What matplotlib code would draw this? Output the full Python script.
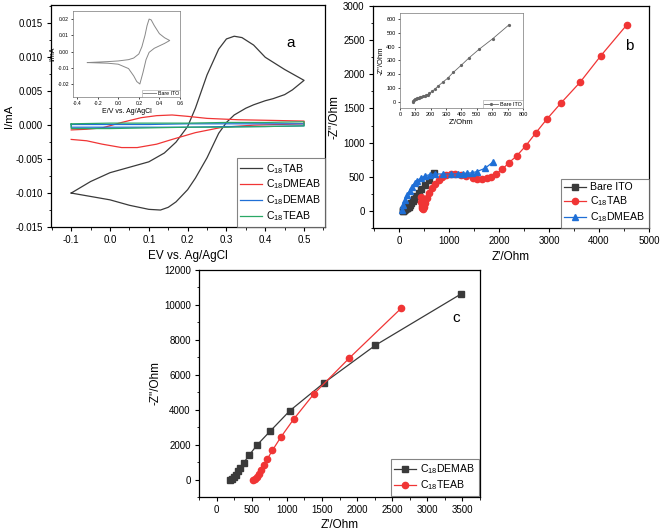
import matplotlib
matplotlib.use('Agg')
import matplotlib.pyplot as plt
from matplotlib.ticker import AutoMinorLocator, FormatStrFormatter

plt.rcParams['font.family'] = ['Liberation Sans', 'DejaVu Sans']
plt.rcParams['mathtext.fontset'] = 'custom'
plt.rcParams['mathtext.rm'] = 'Liberation Sans'
plt.rcParams['mathtext.it'] = 'Liberation Sans:italic'
plt.rcParams['axes.linewidth'] = 0.9

# ---- panel a: CV curves (E in V, I in mA), forward scan then reverse scan
tab_E = [-0.1, -0.05, 0.0, 0.05, 0.1, 0.14, 0.17, 0.2, 0.22, 0.25, 0.28, 0.3, 0.32, 0.34, 0.37, 0.4, 0.45, 0.5,
         0.47, 0.45, 0.42, 0.4, 0.37, 0.35, 0.32, 0.3, 0.28, 0.25, 0.22, 0.2, 0.17, 0.15, 0.13, 0.1, 0.05, 0.0, -0.05, -0.1]
tab_I = [-0.0100, -0.0083, -0.0070, -0.0062, -0.0054, -0.0041, -0.0025, -0.0002, 0.0025, 0.0074, 0.0112, 0.0127, 0.0131, 0.0129, 0.0118, 0.0100, 0.0082, 0.0066,
         0.0052, 0.0045, 0.0039, 0.0036, 0.0030, 0.0025, 0.0015, 0.0004, -0.0012, -0.0048, -0.0078, -0.0095, -0.0113, -0.0121, -0.0125, -0.0124, -0.0118, -0.0110, -0.0105, -0.0100]

dmeab_E = [-0.1, -0.06, -0.02, 0.03, 0.08, 0.12, 0.16, 0.2, 0.25, 0.33, 0.42, 0.5,
           0.5, 0.37, 0.29, 0.22, 0.16, 0.12, 0.07, 0.03, -0.02, -0.06, -0.1]
dmeab_I = [-0.0007, -0.0006, -0.0004, 0.0004, 0.0011, 0.0014, 0.0015, 0.0013, 0.0010, 0.0008, 0.0007, 0.0006,
           0.0002, 0.0000, -0.0003, -0.0011, -0.0021, -0.0028, -0.0033, -0.0033, -0.0028, -0.0023, -0.0021]

demab_E = [-0.1, 0.0, 0.1, 0.2, 0.3, 0.4, 0.5, 0.5, 0.4, 0.3, 0.2, 0.1, 0.0, -0.1, -0.1]
demab_I = [0.0001, 0.0001, 0.0001, 0.0002, 0.0002, 0.0002, 0.0002, -0.0001, -0.0002, -0.0002, -0.0003, -0.0003, -0.0003, -0.0003, 0.0001]

teab_E = [-0.1, 0.0, 0.1, 0.2, 0.3, 0.4, 0.5, 0.5, 0.4, 0.3, 0.2, 0.1, 0.0, -0.1, -0.1]
teab_I = [0.0002, 0.0003, 0.0003, 0.0003, 0.0004, 0.0004, 0.0005, -0.0001, -0.0002, -0.0003, -0.0003, -0.0004, -0.0005, -0.0005, 0.0002]

# inset a: bare ITO CV
ito_E = [-0.3, -0.2, -0.1, 0.0, 0.1, 0.15, 0.2, 0.23, 0.26, 0.28, 0.3, 0.32, 0.35, 0.4, 0.45, 0.5,
         0.45, 0.4, 0.35, 0.3, 0.27, 0.24, 0.21, 0.18, 0.15, 0.1, 0.0, -0.1, -0.2, -0.3]
ito_I = [-0.0068, -0.0065, -0.0062, -0.0058, -0.0050, -0.0040, -0.0015, 0.0030, 0.0100, 0.0160, 0.0200, 0.0195, 0.0160, 0.0110, 0.0085, 0.0068,
         0.0050, 0.0035, 0.0020, -0.0005, -0.0050, -0.0130, -0.0200, -0.0185, -0.0150, -0.0105, -0.0078, -0.0072, -0.0070, -0.0068]

# ---- panel b: Nyquist (Z' , -Z'')
bare_zr = [82, 86, 90, 96, 102, 108, 115, 122, 130, 140, 150, 160, 170, 180, 192, 208, 227, 249, 278, 310, 347, 398, 448, 514, 603, 709]
bare_zi = [0, 6, 12, 17, 21, 25, 28, 31, 34, 37, 40, 43, 47, 53, 62, 75, 92, 115, 142, 171, 214, 265, 318, 381, 458, 559]

tab_zr = [440, 445, 452, 462, 478, 500, 525, 560, 610, 665, 725, 795, 870, 950, 1035, 1130, 1240, 1350, 1473, 1567, 1660,
          1753, 1840, 1940, 2067, 2200, 2353, 2533, 2740, 2960, 3240, 3620, 4033, 4553]
tab_zi = [200, 130, 70, 40, 35, 60, 120, 190, 265, 330, 395, 450, 500, 530, 540, 535, 520, 505, 487, 473, 473,
          483, 502, 541, 610, 707, 805, 951, 1146, 1346, 1580, 1882, 2268, 2721]

dmeab_zr = [60, 90, 115, 160, 213, 260, 313, 367, 433, 513, 613, 713, 880, 1040, 1180, 1280, 1367, 1453, 1553, 1720, 1873]
dmeab_zi = [15, 80, 160, 235, 297, 356, 405, 443, 478, 512, 531, 541, 541, 541, 545, 548, 553, 558, 575, 624, 712]

# ---- panel c
demab_zr = [191, 220, 248, 277, 305, 338, 386, 462, 577, 767, 1043, 1524, 2262, 3476]
demab_zi = [0, 40, 133, 270, 462, 673, 962, 1385, 1981, 2787, 3942, 5520, 7693, 10617]

teab_zr = [519, 548, 581, 610, 638, 672, 719, 795, 914, 1095, 1385, 1891, 2628]
teab_zi = [0, 58, 173, 327, 558, 808, 1154, 1673, 2423, 3444, 4904, 6963, 9809]

c_black = '#3a3a3a'
c_red = '#f03535'
c_blue = '#1f6fd6'
c_green = '#2aa866'


def style_axes(ax, fs):
    ax.tick_params(direction='out', length=3, width=0.8, pad=3, labelsize=fs, top=False, right=False)
    ax.tick_params(which='minor', direction='out', length=1.8, width=0.6, top=False, right=False)
    ax.xaxis.set_minor_locator(AutoMinorLocator(2))
    ax.yaxis.set_minor_locator(AutoMinorLocator(2))


def main_legend(ax, pad):
    lg = ax.legend(loc='lower right', fontsize=7.6, frameon=True, fancybox=False, edgecolor='#666666',
                   borderaxespad=pad, handlelength=2.0, handletextpad=0.45, labelspacing=0.2, borderpad=0.35)
    lg.get_frame().set_linewidth(0.8)
    return lg


fig = plt.figure(figsize=(6.61, 5.32), dpi=100)

# panel a
ax1 = fig.add_axes([0.0772, 0.5733, 0.4145, 0.4173])
ax1.plot(tab_E, tab_I, color=c_black, lw=0.9, label='C$_{18}$TAB')
ax1.plot(dmeab_E, dmeab_I, color=c_red, lw=0.9, label='C$_{18}$DMEAB')
ax1.plot(demab_E, demab_I, color=c_blue, lw=0.9, label='C$_{18}$DEMAB')
ax1.plot(teab_E, teab_I, color=c_green, lw=0.9, label='C$_{18}$TEAB')
ax1.set_xlim(-0.152, 0.554)
ax1.set_ylim(-0.015, 0.0177)
ax1.set_xticks([-0.1, 0.0, 0.1, 0.2, 0.3, 0.4, 0.5])
ax1.set_yticks([-0.015, -0.010, -0.005, 0.0, 0.005, 0.010, 0.015])
ax1.xaxis.set_major_formatter(FormatStrFormatter('%.1f'))
ax1.yaxis.set_major_formatter(FormatStrFormatter('%.3f'))
style_axes(ax1, 7)
ax1.set_xlabel('EV vs. Ag/AgCl', fontsize=8.5, labelpad=3)
ax1.set_ylabel('I/mA', fontsize=8.2, labelpad=1)
ax1.text(0.86, 0.81, 'a', transform=ax1.transAxes, fontsize=11)
main_legend(ax1, 0)

# inset a
ins1 = fig.add_axes([0.1104, 0.8177, 0.1619, 0.1617])
ins1.plot(ito_E, ito_I, color='#888888', lw=0.7, label='Bare ITO')
ins1.set_xlim(-0.44, 0.6)
ins1.set_ylim(-0.028, 0.025)
ins1.set_xticks([-0.4, -0.2, 0.0, 0.2, 0.4, 0.6])
ins1.set_yticks([-0.02, -0.01, 0.0, 0.01, 0.02])
ins1.xaxis.set_major_formatter(FormatStrFormatter('%.1f'))
ins1.yaxis.set_major_formatter(FormatStrFormatter('%.2f'))
ins1.tick_params(direction='out', length=1.5, width=0.5, labelsize=3.6, pad=1.5)
ins1.set_xlabel('E/V vs. Ag/AgCl', fontsize=5, labelpad=1)
ins1.set_ylabel('I/mA', fontsize=5, labelpad=1)
for s in ins1.spines.values():
    s.set_linewidth(0.5)
    s.set_color('#777777')
l1 = ins1.legend(loc='lower right', fontsize=3.8, frameon=True, fancybox=False, edgecolor='#888888',
                 borderaxespad=0, handlelength=2.5, handletextpad=0.3, borderpad=0.2)
l1.get_frame().set_linewidth(0.4)

# panel b
ax2 = fig.add_axes([0.5643, 0.5714, 0.4175, 0.4173])
ax2.plot(bare_zr, bare_zi, color=c_black, lw=0.9, marker='s', ms=4.2, label='Bare ITO')
ax2.plot(tab_zr, tab_zi, color=c_red, lw=0.9, marker='o', ms=4.5, label='C$_{18}$TAB')
ax2.plot(dmeab_zr, dmeab_zi, color=c_blue, lw=0.9, marker='^', ms=4.5, label='C$_{18}$DMEAB')
ax2.set_xlim(-520, 5000)
ax2.set_ylim(-250, 3000)
ax2.set_xticks(range(0, 5001, 1000))
ax2.set_yticks(range(0, 3001, 500))
style_axes(ax2, 7)
ax2.set_xlabel("Z'/Ohm", fontsize=8.5, labelpad=3)
ax2.set_ylabel('-Z"/Ohm', fontsize=8.5, labelpad=2)
ax2.text(0.915, 0.8, 'b', transform=ax2.transAxes, fontsize=11)
main_legend(ax2, 0)

# inset b
ins2 = fig.add_axes([0.6051, 0.797, 0.1861, 0.1786])
ins2.plot(bare_zr, bare_zi, color='#666666', lw=0.6, marker='o', ms=1.3, label='Bare ITO')
ins2.set_xlim(0, 800)
ins2.set_ylim(-45, 645)
ins2.set_xticks(range(0, 801, 100))
ins2.set_yticks(range(0, 601, 100))
ins2.tick_params(direction='out', length=1.5, width=0.5, labelsize=4, pad=1.5)
ins2.set_xlabel("Z'/Ohm", fontsize=5.5, labelpad=1)
ins2.set_ylabel('-Z"/Ohm', fontsize=5.5, labelpad=1)
for s in ins2.spines.values():
    s.set_linewidth(0.5)
    s.set_color('#777777')
l2 = ins2.legend(loc='lower right', fontsize=4, frameon=True, fancybox=False, edgecolor='#888888',
                 borderaxespad=0, handlelength=2.5, handletextpad=0.3, borderpad=0.25)
l2.get_frame().set_linewidth(0.4)

# panel c
ax3 = fig.add_axes([0.3011, 0.0658, 0.4251, 0.4267])
ax3.plot(demab_zr, demab_zi, color=c_black, lw=0.9, marker='s', ms=4.2, label='C$_{18}$DEMAB')
ax3.plot(teab_zr, teab_zi, color=c_red, lw=0.9, marker='o', ms=4.5, label='C$_{18}$TEAB')
ax3.set_xlim(-250, 3750)
ax3.set_ylim(-1000, 12000)
ax3.set_xticks(range(0, 3501, 500))
ax3.set_yticks(range(0, 12001, 2000))
style_axes(ax3, 7)
ax3.set_xlabel("Z'/Ohm", fontsize=8.5, labelpad=3)
ax3.set_ylabel('-Z"/Ohm', fontsize=8.5, labelpad=2)
ax3.text(0.9, 0.77, 'c', transform=ax3.transAxes, fontsize=11)
main_legend(ax3, 0.1)

plt.savefig('out.png', dpi=100)
